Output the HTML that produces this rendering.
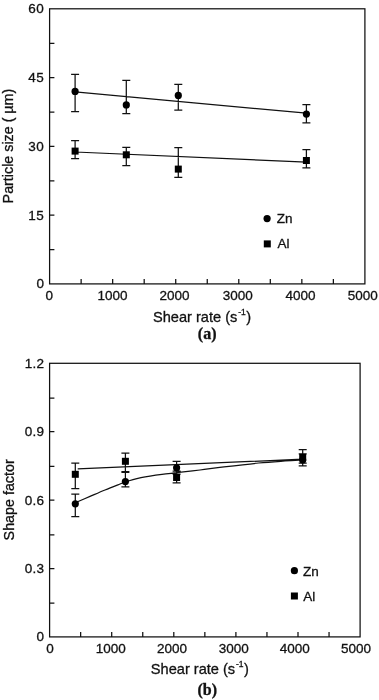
<!DOCTYPE html>
<html><head><meta charset="utf-8"><title>Figure</title>
<style>html,body{margin:0;padding:0;background:#fff}svg{display:block}text{font-family:"Liberation Sans",Arial,Helvetica,sans-serif;fill:#111;stroke:#111;stroke-width:0.3px}.t{font-size:13.5px}.yt{letter-spacing:0.5px}.ax{font-size:14.6px}.ay{font-size:14.3px}.cap{font-family:"Liberation Serif","Times New Roman",serif;font-weight:bold;font-size:16px}.l{stroke:#111;stroke-width:1.25;fill:none}.m{fill:#000;stroke:none}</style></head><body>
<svg width="379" height="700" viewBox="0 0 379 700">
<rect width="379" height="700" fill="#fff"/>
<rect class="l" x="49.6" y="8.8" width="315.29999999999995" height="275.09999999999997"/>
<path class="l" d="M49.6 43.34h4.8M49.6 77.57h4.8M49.6 112.11h4.8M49.6 146.35h4.8M49.6 180.89h4.8M49.6 215.12h4.8M49.6 249.66h4.8M81.13 283.9v-4.8M112.66 283.9v-4.8M144.19 283.9v-4.8M175.72 283.9v-4.8M207.25 283.9v-4.8M238.78 283.9v-4.8M270.31 283.9v-4.8M301.84 283.9v-4.8M333.37 283.9v-4.8"/>
<text class="t" letter-spacing="0.5" x="44.4" y="13.35" text-anchor="end">60</text>
<text class="t" letter-spacing="0.5" x="44.4" y="82.12" text-anchor="end">45</text>
<text class="t" letter-spacing="0.5" x="44.4" y="150.90" text-anchor="end">30</text>
<text class="t" letter-spacing="0.5" x="44.4" y="219.68" text-anchor="end">15</text>
<text class="t" letter-spacing="0.5" x="44.4" y="288.45" text-anchor="end">0</text>
<text class="t" x="49.20" y="300.2" text-anchor="middle">0</text>
<text class="t" x="112.60" y="300.2" text-anchor="middle">1000</text>
<text class="t" x="174.40" y="300.2" text-anchor="middle">2000</text>
<text class="t" x="237.70" y="300.2" text-anchor="middle">3000</text>
<text class="t" x="300.50" y="300.2" text-anchor="middle">4000</text>
<text class="t" x="362.70" y="300.2" text-anchor="middle">5000</text>
<text class="ax ay" transform="translate(12.9 203.4) rotate(-90)" text-anchor="start">Particle size ( µm)</text>
<text class="ax" x="153" y="322.0">Shear rate (s<tspan dy="-6.8" dx="0.8" font-size="8.5">-1</tspan><tspan dy="6.8" dx="0.6">)</tspan></text>
<text class="cap" x="207.2" y="339.3" text-anchor="middle">(a)</text>
<path class="l" d="M75.10 74.30V111.50M71.10 74.30h8M71.10 111.50h8M126.30 80.30V113.60M122.30 80.30h8M122.30 113.60h8M178.30 84.30V110.20M174.30 84.30h8M174.30 110.20h8M306.40 104.60V122.80M302.40 104.60h8M302.40 122.80h8M75.10 140.60V158.50M71.10 140.60h8M71.10 158.50h8M126.30 147.40V165.60M122.30 147.40h8M122.30 165.60h8M178.30 147.70V177.30M174.30 147.70h8M174.30 177.30h8M306.40 149.70V167.90M302.40 149.70h8M302.40 167.90h8M75.1 91.9L306.4 113.2M75.1 152L306.4 162.2"/>
<circle class="m" cx="75.1" cy="91.4" r="3.6"/>
<circle class="m" cx="126.3" cy="104.9" r="3.6"/>
<circle class="m" cx="178.3" cy="95.4" r="3.6"/>
<circle class="m" cx="306.4" cy="114.1" r="3.6"/>
<rect class="m" x="71.60" y="147.60" width="7" height="7"/>
<rect class="m" x="122.80" y="151.30" width="7" height="7"/>
<rect class="m" x="174.80" y="165.60" width="7" height="7"/>
<rect class="m" x="302.90" y="157.00" width="7" height="7"/>
<circle class="m" cx="267.1" cy="218.6" r="3.6"/>
<rect class="m" x="263.8" y="240.4" width="7" height="7"/>
<text class="t" x="276.8" y="222.7">Zn</text>
<text class="t" x="277.4" y="248">Al</text>
<rect class="l" x="49.6" y="363.3" width="310.5" height="273.59999999999997"/>
<path class="l" d="M49.6 398.00h4.8M49.6 431.70h4.8M49.6 466.40h4.8M49.6 500.10h4.8M49.6 534.80h4.8M49.6 568.50h4.8M49.6 603.20h4.8M80.65 636.9v-4.8M111.70 636.9v-4.8M142.75 636.9v-4.8M173.80 636.9v-4.8M204.85 636.9v-4.8M235.90 636.9v-4.8M266.95 636.9v-4.8M298.00 636.9v-4.8M329.05 636.9v-4.8"/>
<text class="t" letter-spacing="0.3" x="44.4" y="367.85" text-anchor="end">1.2</text>
<text class="t" letter-spacing="0.3" x="44.4" y="436.25" text-anchor="end">0.9</text>
<text class="t" letter-spacing="0.3" x="44.4" y="504.65" text-anchor="end">0.6</text>
<text class="t" letter-spacing="0.3" x="44.4" y="573.05" text-anchor="end">0.3</text>
<text class="t" letter-spacing="0.3" x="44.4" y="641.45" text-anchor="end">0</text>
<text class="t" x="49.90" y="652.8" text-anchor="middle">0</text>
<text class="t" x="110.70" y="652.8" text-anchor="middle">1000</text>
<text class="t" x="171.90" y="652.8" text-anchor="middle">2000</text>
<text class="t" x="233.70" y="652.8" text-anchor="middle">3000</text>
<text class="t" x="294.80" y="652.8" text-anchor="middle">4000</text>
<text class="t" x="355.90" y="652.8" text-anchor="middle">5000</text>
<text class="ax ay" transform="translate(14 540.4) rotate(-90)" text-anchor="start">Shape factor</text>
<text class="ax" x="150.8" y="674.0">Shear rate (s<tspan dy="-6.8" dx="0.8" font-size="8.5">-1</tspan><tspan dy="6.8" dx="0.6">)</tspan></text>
<text class="cap" x="207.2" y="695.1" text-anchor="middle">(b)</text>
<path class="l" d="M75.30 494.20V516.50M71.30 494.20h8M71.30 516.50h8M125.40 471.60V486.80M121.40 471.60h8M121.40 486.80h8M176.60 461.40V474.00M172.60 461.40h8M172.60 474.00h8M302.70 453.90V465.90M298.70 453.90h8M298.70 465.90h8M75.30 463.00V488.50M71.30 463.00h8M71.30 488.50h8M125.40 453.20V472.40M121.40 453.20h8M121.40 472.40h8M176.60 471.00V482.90M172.60 471.00h8M172.60 482.90h8M302.70 449.70V463.00M298.70 449.70h8M298.70 463.00h8M77.7 468.9L302.6 459.2M75.20 502.80C77.67 501.73 85.03 498.53 90.00 496.40C94.97 494.27 100.33 491.93 105.00 490.00C109.67 488.07 114.62 486.13 118.00 484.80C121.38 483.47 122.80 482.87 125.30 482.00C127.80 481.13 130.38 480.32 133.00 479.60C135.62 478.88 138.17 478.28 141.00 477.70C143.83 477.12 146.50 476.65 150.00 476.10C153.50 475.55 157.57 474.97 162.00 474.40C166.43 473.83 170.27 473.43 176.60 472.70C182.93 471.97 192.10 470.97 200.00 470.00C207.90 469.03 214.23 468.07 224.00 466.90C233.77 465.73 248.43 463.98 258.60 463.00C268.77 462.02 277.67 461.50 285.00 461.00C292.33 460.50 299.67 460.17 302.60 460.00"/>
<circle class="m" cx="75.3" cy="503.8" r="3.6"/>
<circle class="m" cx="125.4" cy="481.6" r="3.6"/>
<circle class="m" cx="176.6" cy="467.8" r="3.6"/>
<circle class="m" cx="302.7" cy="460.0" r="3.6"/>
<rect class="m" x="71.80" y="470.80" width="7" height="7"/>
<rect class="m" x="121.90" y="457.80" width="7" height="7"/>
<rect class="m" x="173.10" y="474.00" width="7" height="7"/>
<rect class="m" x="299.20" y="453.90" width="7" height="7"/>
<circle class="m" cx="294.4" cy="570.7" r="3.6"/>
<rect class="m" x="290.9" y="592.5" width="7" height="7"/>
<text class="t" x="303" y="575.5">Zn</text>
<text class="t" x="303.3" y="600.6">Al</text>
</svg></body></html>
